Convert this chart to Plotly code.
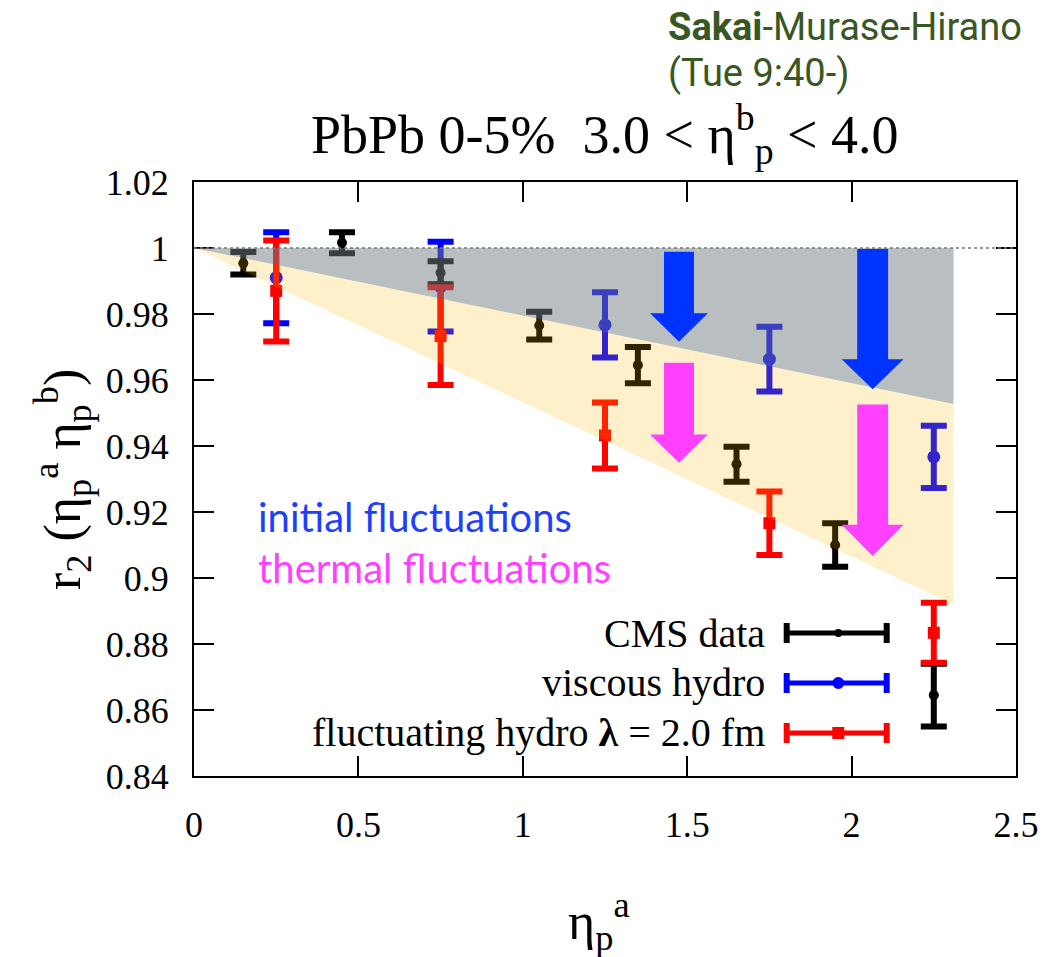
import plotly.graph_objects as go

# CMS data
cms_x = [0.15, 0.45, 0.75, 1.05, 1.35, 1.65, 1.95, 2.25]
cms_y = [0.9954, 1.0016, 0.9925, 0.9765, 0.9645, 0.9345, 0.9100, 0.8645]
cms_err = [0.0034, 0.0032, 0.0035, 0.0042, 0.0055, 0.0053, 0.0066, 0.0095]

# viscous hydro
visc_x = [0.25, 0.75, 1.25, 1.75, 2.25]
visc_y = [0.9910, 0.9883, 0.9767, 0.9663, 0.9367]
visc_err = [0.0138, 0.0136, 0.0099, 0.0098, 0.0094]

# fluctuating hydro, lambda = 2.0 fm
fluc_x = [0.25, 0.75, 1.25, 1.75, 2.25]
fluc_y = [0.9870, 0.9733, 0.9432, 0.9166, 0.8834]
fluc_err = [0.0153, 0.0148, 0.0100, 0.0096, 0.0091]

# shaded bands: initial-fluctuation (gray) and thermal-fluctuation (yellow) reach
band_x = [0.0, 2.31]
band_initial = [1.0, 0.9527]
band_thermal = [1.0, 0.8920]

x_ticks = [0, 0.5, 1, 1.5, 2, 2.5]
x_ticklabels = ["0", "0.5", "1", "1.5", "2", "2.5"]
y_ticks = [0.84, 0.86, 0.88, 0.90, 0.92, 0.94, 0.96, 0.98, 1.00, 1.02]
y_ticklabels = ["0.84", "0.86", "0.88", "0.9", "0.92", "0.94", "0.96", "0.98", "1", "1.02"]

SERIF = "Liberation Serif"
BLUE = "#0033ff"
MAGENTA = "#ff40ff"
GREEN = "#385723"

fig = go.Figure()


def err_trace(x, y, e, color, symbol, size):
    return go.Scatter(
        x=x, y=y, mode="markers",
        marker=dict(color=color, symbol=symbol, size=size),
        error_y=dict(type="data", array=e, visible=True, color=color,
                     thickness=6, width=13),
        showlegend=False, hoverinfo="x+y",
    )


fig.add_trace(err_trace(visc_x, visc_y, visc_err, "#0000ff", "circle", 13))
fig.add_trace(err_trace(cms_x, cms_y, cms_err, "#000000", "circle", 10))
fig.add_trace(err_trace(fluc_x, fluc_y, fluc_err, "#ff0000", "square", 12))

shapes = []
# reference line at r2 = 1
shapes.append(dict(type="line", xref="x", yref="y", x0=0, x1=2.5, y0=1, y1=1,
                   line=dict(color="#777777", width=1.5, dash="dot"), layer="above"))
# gray band between r2 = 1 and the initial-fluctuation line
shapes.append(dict(
    type="path", xref="x", yref="y", layer="above", line=dict(width=0),
    fillcolor="rgba(116,126,130,0.5)",
    path=f"M {band_x[0]},{band_initial[0]} L {band_x[1]},1 L {band_x[1]},{band_initial[1]} Z"))
# yellow band between the initial- and thermal-fluctuation lines
shapes.append(dict(
    type="path", xref="x", yref="y", layer="above", line=dict(width=0),
    fillcolor="rgba(255,180,0,0.2)",
    path=(f"M {band_x[0]},{band_thermal[0]} L {band_x[1]},{band_initial[1]} "
          f"L {band_x[1]},{band_thermal[1]} Z")))


def arrow(xc, ytop, yhead, ytip, shaft, head, color):
    p = (f"M {xc - shaft},{ytop} L {xc + shaft},{ytop} L {xc + shaft},{yhead} "
         f"L {xc + head},{yhead} L {xc},{ytip} L {xc - head},{yhead} "
         f"L {xc - shaft},{yhead} Z")
    return dict(type="path", xref="x", yref="y", path=p, fillcolor=color,
                line=dict(width=0), layer="above")


shapes.append(arrow(1.475, 0.9989, 0.9802, 0.9716, 0.0456, 0.088, BLUE))
shapes.append(arrow(1.475, 0.9652, 0.9435, 0.9349, 0.0456, 0.088, MAGENTA))
shapes.append(arrow(2.064, 0.9997, 0.9663, 0.9572, 0.047, 0.094, BLUE))
shapes.append(arrow(2.064, 0.9526, 0.9161, 0.9067, 0.047, 0.094, MAGENTA))

# hand-built key: label on the left, horizontal error-bar sample on the right
W, H = 822.0, 594.0
key_rows = [
    ("CMS data", "#000000", "circle", 4, 0.2407),
    ("viscous hydro", "#0000ff", "circle", 6, 0.1566),
    ("fluctuating hydro <b>λ</b> = 2.0 fm", "#ff0000", "square", 6, 0.0724),
]
kx0, kx1 = (786.7 - 194) / W, (886.7 - 194) / W
kxc = (838.3 - 194) / W
cap = 10 / H
annotations = []
for label, color, sym, r, yy in key_rows:
    shapes.append(dict(type="line", xref="paper", yref="paper", x0=kx0, x1=kx1,
                       y0=yy, y1=yy, line=dict(color=color, width=5), layer="above"))
    for xe in (kx0, kx1):
        shapes.append(dict(type="line", xref="paper", yref="paper", x0=xe, x1=xe,
                           y0=yy - cap, y1=yy + cap, line=dict(color=color, width=6),
                           layer="above"))
    shapes.append(dict(type="circle" if sym == "circle" else "rect",
                       xref="paper", yref="paper",
                       x0=kxc - r / W, x1=kxc + r / W, y0=yy - r / H, y1=yy + r / H,
                       fillcolor=color, line=dict(width=0), layer="above"))
    annotations.append(dict(xref="paper", yref="paper", x=(767 - 194) / W, y=yy,
                            xanchor="right", yanchor="middle", showarrow=False,
                            text=label, font=dict(family=SERIF, size=40, color="#000000")))

annotations += [
    dict(xref="paper", yref="paper", x=(605 - 194) / W, y=(776 - 134) / H, showarrow=False,
         xanchor="center", yanchor="middle",
         text="PbPb 0-5%  3.0 < η<sup>b</sup><sub>p</sub> < 4.0",
         font=dict(family=SERIF, size=54, color="#000000")),
    dict(xref="paper", yref="paper", x=(666 - 194) / W, y=(776 - 27) / H, showarrow=False,
         xanchor="left", yanchor="middle",
         text="<b>Sakai</b>-Murase-Hirano",
         font=dict(family="Roboto", size=38, color=GREEN)),
    dict(xref="paper", yref="paper", x=(666 - 194) / W, y=(776 - 73) / H, showarrow=False,
         xanchor="left", yanchor="middle", text="(Tue 9:40-)",
         font=dict(family="Roboto", size=38, color=GREEN)),
    dict(xref="paper", yref="paper", x=(256 - 194) / W, y=(776 - 517) / H, showarrow=False,
         xanchor="left", yanchor="middle", text="initial fluctuations",
         font=dict(family="Lato", size=40, color="#1f3fff")),
    dict(xref="paper", yref="paper", x=(256 - 194) / W, y=(776 - 568) / H, showarrow=False,
         xanchor="left", yanchor="middle", text="thermal fluctuations",
         font=dict(family="Lato", size=40, color=MAGENTA)),
    dict(xref="paper", yref="paper", x=(62 - 194) / W, y=(776 - 480) / H, showarrow=False,
         xanchor="center", yanchor="middle", textangle=-90,
         text="r<sub>2</sub> (η<sub>p</sub><sup>a</sup> η<sub>p</sub><sup>b</sup>)",
         font=dict(family=SERIF, size=52, color="#000000")),
    dict(xref="paper", yref="paper", x=(599 - 194) / W, y=(776 - 922) / H, showarrow=False,
         xanchor="center", yanchor="middle",
         text="η<sub>p</sub><sup>a</sup>",
         font=dict(family=SERIF, size=52, color="#000000")),
]

axis_common = dict(
    showgrid=False, zeroline=False, showline=True, linecolor="#000000", linewidth=2,
    mirror="ticks", ticks="inside", ticklen=20, tickwidth=1.5, tickcolor="#000000",
    tickfont=dict(family=SERIF, size=36, color="#000000"),
)

fig.update_layout(
    width=1053, height=957,
    margin=dict(l=194, r=37, t=182, b=181),
    paper_bgcolor="white", plot_bgcolor="white",
    showlegend=False,
    xaxis=dict(range=[0, 2.5], tickvals=x_ticks, ticktext=x_ticklabels,
               ticklabelstandoff=16, **axis_common),
    yaxis=dict(range=[0.84, 1.02], tickvals=y_ticks, ticktext=y_ticklabels,
               ticklabelstandoff=16, **axis_common),
    shapes=shapes,
    annotations=annotations,
)

fig.write_html("out.html")
